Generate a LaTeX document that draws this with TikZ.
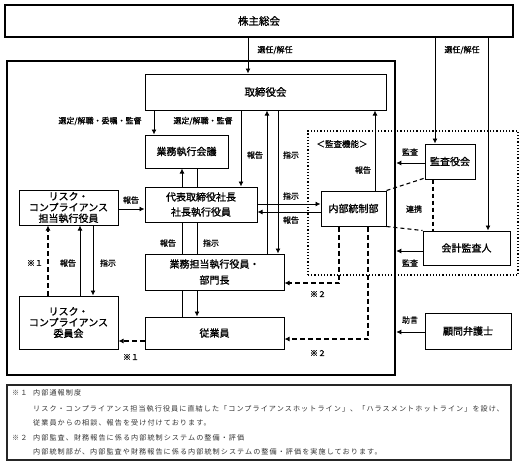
\documentclass[tikz,border=0pt]{standalone}
\usepackage{fontspec}
\setmainfont{Noto Sans CJK JP}
\newfontfamily\boxfont[FakeBold=1.2]{Noto Sans CJK JP}
\newfontfamily\lblfont[FakeBold=0.8]{Noto Sans CJK JP}
\newfontfamily\notefont[LetterSpace=15]{Noto Sans CJK JP}
\usetikzlibrary{arrows.meta}
\begin{document}
\begin{tikzpicture}[x=1pt,y=-1pt,
 box/.style={draw, line width=1pt, inner sep=0pt, font=\boxfont\fontsize{10}{11}\selectfont, align=center},
 thickbox/.style={draw, line width=2.5pt, inner sep=0pt},
 lbl/.style={font=\lblfont\fontsize{8}{9}\selectfont, inner sep=0pt},
 note/.style={font=\notefont\fontsize{7.1}{9}\selectfont, inner sep=0pt, anchor=west, text=black!80},
 arr/.style={line width=0.9pt, -{Latex[length=5pt,width=5pt]}},
 ln/.style={line width=0.9pt},
 dasharr/.style={line width=2pt, dash pattern=on 5pt off 3pt, -{Latex[length=5pt,width=5pt]}},
 dashln/.style={line width=1.1pt, dash pattern=on 4pt off 3pt},
]
\useasboundingbox (0,0) rectangle (520,467);
\fill[white] (0,0) rectangle (520,467);

% frames
\node[thickbox, minimum width=508pt, minimum height=32pt, font=\boxfont\fontsize{10.5}{12}\selectfont] (shu) at (259,21) {株主総会};
\node[thickbox, minimum width=388pt, minimum height=314pt] (frame) at (201,218) {};
\node[draw, dotted, line width=1.2pt, minimum width=210pt, minimum height=144pt, inner sep=0pt] (audit) at (413,203) {};
\node[lbl, font=\lblfont\fontsize{8.5}{9}\selectfont] (auditlbl) at (342,144) {＜監査機能＞};

% boxes
\node[box, minimum width=241pt, minimum height=36pt, font=\boxfont\fontsize{10.5}{12}\selectfont] (tori) at (265.5,92) {取締役会};
\node[box, minimum width=83pt, minimum height=33pt] (kaigi) at (186.5,151.5) {業務執行会議};
\node[box, minimum width=112pt, minimum height=35pt, font=\boxfont\fontsize{10}{15}\selectfont] (daihyo) at (201,204.5) {代表取締役社長\\社長執行役員};
\node[box, minimum width=139pt, minimum height=36pt, font=\boxfont\fontsize{10}{16}\selectfont] (gyotan) at (214.5,272) {業務担当執行役員・\\部門長};
\node[box, minimum width=139pt, minimum height=32pt] (jugyo) at (214.5,333) {従業員};
\node[box, minimum width=99pt, minimum height=35pt] (riskexec) at (68.5,207.5) {リスク・\\コンプライアンス\\担当執行役員};
\node[box, minimum width=99pt, minimum height=53pt] (riskcom) at (68.5,322.5) {リスク・\\コンプライアンス\\委員会};
\node[box, minimum width=65pt, minimum height=35pt] (naibu) at (353.5,208.5) {内部統制部};
\node[box, minimum width=50pt, minimum height=35pt] (kansayaku) at (450,161.5) {監査役会};
\node[box, minimum width=87pt, minimum height=34pt] (kaikei) at (466.5,248) {会計監査人};
\node[box, minimum width=86pt, minimum height=36pt] (komon) at (468,331) {顧問弁護士};

% shareholders
\draw[arr] (248,0 |- shu.south) -- (248,0 |- tori.north);
\node[lbl] (l1) at (275,50) {選任/解任};
\draw[arr] (435,0 |- shu.south) -- (435,0 |- kansayaku.north);
\draw[arr] (488,0 |- shu.south) -- (488,0 |- kaikei.north);
\node[lbl] (l2) at (462,50) {選任/解任};

% board
\draw[arr] (154,0 |- tori.south) -- (154,0 |- kaigi.north);
\node[lbl] (l3) at (100,121) {選定/解職・委嘱・監督};
\draw[arr] (241,0 |- tori.south) -- (241,0 |- daihyo.north);
\node[lbl] (l4) at (203,121) {選定/解職・監督};
\draw[arr] (182,0 |- daihyo.north) -- (182,0 |- kaigi.south);
\draw[ln] (197,0 |- daihyo.north) -- (197,0 |- kaigi.south);
\draw[arr] (267,0 |- gyotan.north) -- (267,0 |- tori.south);
\node[lbl] (l5) at (255,155) {報告};
\draw[arr] (278,0 |- tori.south) -- (278,0 |- gyotan.north);
\node[lbl] (l6) at (291,155) {指示};

% risk
\draw[arr] (riskexec.east |- 0,209) -- (daihyo.west |- 0,209);
\node[lbl] (l7) at (131,200) {報告};
\draw[dasharr] (48,0 |- riskcom.north) -- (48,0 |- riskexec.south);
\draw[arr] (80,0 |- riskcom.north) -- (80,0 |- riskexec.south);
\draw[arr] (93,0 |- riskexec.south) -- (93,0 |- riskcom.north);
\node[lbl] (l8) at (35,263) {※１};
\node[lbl] (l9) at (68,263) {報告};
\node[lbl] (l10) at (108,263) {指示};
\draw[dasharr] (jugyo.west |- 0,341) -- (riskcom.east |- 0,341);
\node[lbl] (l11) at (131,357) {※１};

% president / internal control
\draw[arr] (daihyo.east |- 0,204) -- (naibu.west |- 0,204);
\node[lbl] (l12) at (291,196) {指示};
\draw[arr] (naibu.west |- 0,212) -- (daihyo.east |- 0,212);
\node[lbl] (l13) at (291,220) {報告};
\draw[arr] (375,0 |- naibu.north) -- (375,0 |- tori.south);
\node[lbl] (l14) at (363,170) {報告};
\draw[ln] (182,0 |- daihyo.south) -- (182,0 |- gyotan.north);
\draw[ln] (197,0 |- daihyo.south) -- (197,0 |- gyotan.north);
\node[lbl] (l15) at (168,243) {報告};
\node[lbl] (l16) at (211,243) {指示};
\draw[ln] (182,0 |- gyotan.south) -- (182,0 |- jugyo.north);
\draw[arr] (197,0 |- gyotan.south) -- (197,0 |- jugyo.north);

% internal audit dashed
\coordinate (c1) at (339,283);
\coordinate (c2) at (368,339);
\draw[dasharr] (339,0 |- naibu.south) -- (c1) -- (gyotan.east |- c1);
\node[lbl] (l17) at (318,294) {※２};
\draw[dasharr] (368,0 |- naibu.south) -- (c2) -- (jugyo.east |- c2);
\node[lbl] (l18) at (318,353) {※２};

% auditors
\draw[arr] (kansayaku.west |- 0,163) -- (frame.east |- 0,163);
\node[lbl] (l19) at (410,152) {監査};
\draw[arr] (kaikei.west |- 0,251) -- (frame.east |- 0,251);
\node[lbl] (l20) at (410,263) {監査};
\draw[arr] (komon.west |- 0,332) -- (frame.east |- 0,332);
\node[lbl] (l21) at (410,320) {助言};
\draw[dashln] (naibu.north east) -- (425,178);
\draw[dashln] (naibu.south east) -- (kaikei.north west);
\draw[dashln] (433,0 |- kansayaku.south) -- (433,0 |- kaikei.north);
\node[lbl] (l22) at (414,209) {連携};

% notes
\node[draw, line width=1.3pt, draw=black!85, minimum width=504pt, minimum height=75pt, inner sep=0pt] (notes) at (259,422.5) {};
\node[note] (n1a) at (12,393) {※１};
\node[note] (n1) at (33,393) {内部通報制度};
\node[note] (n2) at (33,408.5) {リスク・コンプライアンス担当執行役員に直結した「コンプライアンスホットライン」、「ハラスメントホットライン」を設け、};
\node[note] (n3) at (33,423) {従業員からの相談、報告を受け付けております。};
\node[note] (n4a) at (12,437.5) {※２};
\node[note] (n4) at (33,437.5) {内部監査、財務報告に係る内部統制システムの整備・評価};
\node[note] (n5) at (33,452) {内部統制部が、内部監査や財務報告に係る内部統制システムの整備・評価を実施しております。};
\end{tikzpicture}
\end{document}
